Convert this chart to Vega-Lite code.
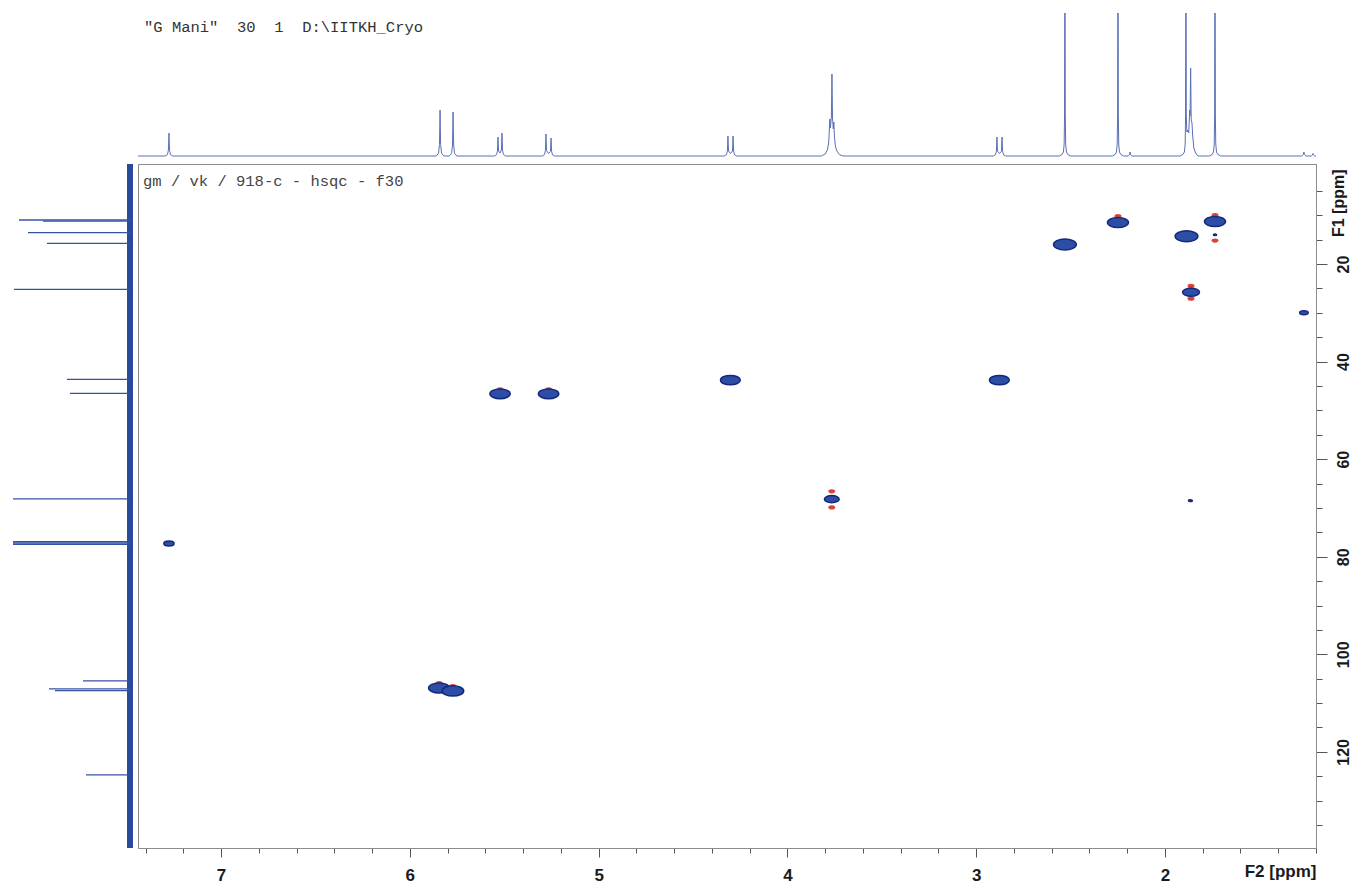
{
  "$schema": "https://vega.github.io/schema/vega-lite/v6.json",
  "background": "white",
  "padding": {"left": 10, "top": 13, "right": 6, "bottom": 6},
  "columns": 2,
  "spacing": {"row": 4, "column": 4},
  "bounds": "flush",
  "config": {
    "view": {"stroke": "#8c8c8c", "strokeWidth": 1},
    "axis": {"grid": false, "domainColor": "#8c8c8c", "tickColor": "#555555", "labelColor": "#1a1a1a", "titleColor": "#1a1a1a", "labelFont": "Liberation Sans", "titleFont": "Liberation Sans", "labelFontWeight": "bold", "titleFontWeight": "bold"}
  },
  "datasets": {
    "proton": [
      {"h":7.44,"i":0},
      {"h":7.296,"i":0},{"h":7.284,"i":1.4},{"h":7.279,"i":5.8},{"h":7.276,"i":23},{"h":7.273,"i":5.8},{"h":7.268,"i":1.4},{"h":7.256,"i":0},
      {"h":5.86,"i":0},{"h":5.848,"i":2.8},{"h":5.843,"i":11.5},{"h":5.84,"i":46},{"h":5.837,"i":11.5},{"h":5.832,"i":2.8},{"h":5.82,"i":0},
      {"h":5.791,"i":0},{"h":5.779,"i":2.6},{"h":5.774,"i":11},{"h":5.771,"i":44},{"h":5.768,"i":11},{"h":5.763,"i":2.6},{"h":5.751,"i":0},
      {"h":5.553,"i":0},{"h":5.541,"i":1.2},{"h":5.536,"i":4.8},{"h":5.533,"i":19},{"h":5.53,"i":5},{"h":5.5225,"i":3},{"h":5.515,"i":6},{"h":5.512,"i":23},{"h":5.509,"i":5.8},{"h":5.504,"i":1.4},{"h":5.492,"i":0},
      {"h":5.299,"i":0},{"h":5.287,"i":1.3},{"h":5.282,"i":5.5},{"h":5.279,"i":22},{"h":5.276,"i":5.5},{"h":5.2655,"i":2.5},{"h":5.255,"i":4.5},{"h":5.252,"i":18},{"h":5.249,"i":4.5},{"h":5.244,"i":1.1},{"h":5.232,"i":0},
      {"h":4.335,"i":0},{"h":4.323,"i":1.2},{"h":4.318,"i":5},{"h":4.315,"i":20},{"h":4.312,"i":5},{"h":4.3015,"i":2.5},{"h":4.291,"i":5},{"h":4.288,"i":20},{"h":4.285,"i":5},{"h":4.28,"i":1.2},{"h":4.268,"i":0},
      {"h":3.82,"i":0},{"h":3.8,"i":2},{"h":3.788,"i":6},{"h":3.781,"i":14},{"h":3.777,"i":30},{"h":3.775,"i":37},{"h":3.772,"i":28},{"h":3.767,"i":40},{"h":3.764,"i":82},{"h":3.761,"i":38},{"h":3.757,"i":27},{"h":3.754,"i":34},{"h":3.751,"i":20},{"h":3.746,"i":10},{"h":3.738,"i":5},{"h":3.725,"i":1.5},{"h":3.705,"i":0},
      {"h":2.91,"i":0},{"h":2.898,"i":1.1},{"h":2.893,"i":4.8},{"h":2.89,"i":19},{"h":2.887,"i":4.8},{"h":2.8765,"i":2.5},{"h":2.866,"i":4.8},{"h":2.863,"i":19},{"h":2.86,"i":4.8},{"h":2.855,"i":1.1},{"h":2.843,"i":0},
      {"h":2.56,"i":0},{"h":2.545,"i":1.5},{"h":2.538,"i":4},{"h":2.534,"i":12},{"h":2.532,"i":40},{"h":2.53,"i":260},{"h":2.528,"i":40},{"h":2.526,"i":12},{"h":2.522,"i":4},{"h":2.515,"i":1.5},{"h":2.5,"i":0},
      {"h":2.279,"i":0},{"h":2.264,"i":1.5},{"h":2.257,"i":4},{"h":2.253,"i":12},{"h":2.251,"i":40},{"h":2.249,"i":260},{"h":2.247,"i":40},{"h":2.245,"i":12},{"h":2.241,"i":4},{"h":2.234,"i":1.5},{"h":2.219,"i":0},
      {"h":2.195,"i":0},{"h":2.188,"i":1.2},{"h":2.185,"i":4},{"h":2.182,"i":1.2},{"h":2.175,"i":0},
      {"h":1.92,"i":0},{"h":1.905,"i":1.5},{"h":1.897,"i":4},{"h":1.893,"i":12},{"h":1.891,"i":40},{"h":1.889,"i":260},{"h":1.887,"i":40},{"h":1.884,"i":24},{"h":1.879,"i":26},{"h":1.874,"i":23},{"h":1.869,"i":46},{"h":1.867,"i":40},{"h":1.864,"i":88},{"h":1.861,"i":36},{"h":1.857,"i":33},{"h":1.853,"i":20},{"h":1.847,"i":8},{"h":1.838,"i":3},{"h":1.825,"i":0},
      {"h":1.765,"i":0},{"h":1.75,"i":1.5},{"h":1.743,"i":4},{"h":1.739,"i":12},{"h":1.737,"i":40},{"h":1.735,"i":260},{"h":1.733,"i":40},{"h":1.731,"i":12},{"h":1.727,"i":4},{"h":1.72,"i":1.5},{"h":1.705,"i":0},
      {"h":1.275,"i":0},{"h":1.267,"i":1.5},{"h":1.264,"i":4},{"h":1.261,"i":1.5},{"h":1.253,"i":0},
      {"h":1.225,"i":0},{"h":1.219,"i":1},{"h":1.216,"i":2.5},{"h":1.213,"i":1},{"h":1.207,"i":0},
      {"h":1.2,"i":0}
    ],
    "carbon": [
      {"c":10.98,"i":111},{"c":11.2,"i":87},{"c":13.58,"i":102},{"c":15.75,"i":83},{"c":25.18,"i":116},
      {"c":43.63,"i":63},{"c":46.5,"i":60},{"c":68.16,"i":117},{"c":76.9,"i":117},{"c":77.18,"i":117},{"c":77.46,"i":117},
      {"c":105.46,"i":47},{"c":107.1,"i":81},{"c":107.45,"i":75},{"c":124.7,"i":44}
    ],
    "hsqc": [
      {"h":7.276,"c":77.3,"vol":0.2},{"h":5.845,"c":106.9,"vol":0.85},{"h":5.772,"c":107.5,"vol":0.9},
      {"h":5.522,"c":46.6,"vol":0.8},{"h":5.265,"c":46.6,"vol":0.8},{"h":4.302,"c":43.8,"vol":0.75},
      {"h":3.765,"c":68.2,"vol":0.42},{"h":2.877,"c":43.8,"vol":0.75},{"h":2.53,"c":16.0,"vol":1.0},
      {"h":2.249,"c":11.5,"vol":0.85},{"h":1.886,"c":14.3,"vol":1.0},{"h":1.735,"c":11.3,"vol":0.85},
      {"h":1.862,"c":25.8,"vol":0.55},{"h":1.264,"c":30.0,"vol":0.14},{"h":1.865,"c":68.5,"vol":0.03},
      {"h":1.735,"c":14.0,"vol":0.02}
    ],
    "neg": [
      {"h":2.249,"c":10.2},{"h":1.735,"c":10.0},{"h":1.862,"c":24.5},{"h":1.862,"c":27.1},
      {"h":3.765,"c":66.6},{"h":3.765,"c":69.9},{"h":5.845,"c":105.9},{"h":5.772,"c":106.5},
      {"h":5.522,"c":45.7},{"h":5.265,"c":45.7},{"h":1.735,"c":15.2}
    ]
  },
  "concat": [
    {
      "width": 124, "height": 147,
      "view": {"stroke": null},
      "data": {"values": []},
      "mark": "point"
    },
    {
      "width": 1178, "height": 147,
      "view": {"stroke": null},
      "title": {"text": "\"G Mani\"\u00a0\u00a030\u00a0\u00a01\u00a0\u00a0D:\\IITKH_Cryo", "anchor": "start", "frame": "group", "orient": "top", "offset": 0, "dx": 6, "dy": 34, "baseline": "alphabetic", "font": "Liberation Mono", "fontSize": 15.5, "fontWeight": "normal", "color": "#333333"},
      "data": {"name": "proton"},
      "mark": {"type": "line", "clip": true, "color": "#5b70b6", "strokeWidth": 1},
      "encoding": {
        "x": {"field": "h", "type": "quantitative", "scale": {"domain": [1.2, 7.44], "reverse": true, "nice": false, "zero": false}, "axis": null},
        "y": {"field": "i", "type": "quantitative", "scale": {"domain": [-4, 143], "nice": false, "zero": false}, "axis": null}
      }
    },
    {
      "width": 124, "height": 684,
      "view": {"stroke": null},
      "layer": [
        {
          "data": {"values": [{"base": 0}]},
          "mark": {"type": "rule", "color": "#2a4a9c", "strokeWidth": 6},
          "encoding": {
            "x": {"field": "base", "type": "quantitative", "scale": {"domain": [-4, 120], "reverse": true, "nice": false, "zero": false}, "axis": null}
          }
        },
        {
          "data": {"name": "carbon"},
          "mark": {"type": "rule", "color": "#3553a3", "strokeWidth": 1.3},
          "encoding": {
            "y": {"field": "c", "type": "quantitative", "scale": {"domain": [-0.5, 139.7], "reverse": true, "nice": false, "zero": false}, "axis": null},
            "x": {"field": "i", "type": "quantitative", "scale": {"domain": [-4, 120], "reverse": true, "nice": false, "zero": false}, "axis": null},
            "x2": {"datum": 0}
          }
        }
      ]
    },
    {
      "width": 1178, "height": 684,
      "title": {"text": "gm / vk / 918-c - hsqc - f30", "anchor": "start", "frame": "group", "orient": "top", "offset": 0, "dx": 5, "dy": 37, "baseline": "alphabetic", "font": "Liberation Mono", "fontSize": 15.5, "fontWeight": "normal", "color": "#444444"},
      "encoding": {
        "x": {
          "field": "h", "type": "quantitative",
          "scale": {"domain": [1.2, 7.44], "reverse": true, "nice": false, "zero": false},
          "axis": {
            "orient": "bottom",
            "values": [1.2,1.4,1.6,1.8,2,2.2,2.4,2.6,2.8,3,3.2,3.4,3.6,3.8,4,4.2,4.4,4.6,4.8,5,5.2,5.4,5.6,5.8,6,6.2,6.4,6.6,6.8,7,7.2,7.4],
            "labelExpr": "abs(datum.value - round(datum.value)) < 0.01 ? format(round(datum.value), 'd') : ''",
            "tickSize": {"condition": {"test": "abs(datum.value - round(datum.value)) < 0.01", "value": 9}, "value": 5},
            "labelFontSize": 17, "labelBaseline": "alphabetic", "labelPadding": 23, "labelOverlap": false, "labelFlush": false,
            "title": "F2 [ppm]", "titleFontSize": 17, "titleX": 1178, "titleY": 28, "titleAlign": "right", "titleBaseline": "alphabetic", "titleAngle": 0
          }
        },
        "y": {
          "field": "c", "type": "quantitative",
          "scale": {"domain": [-0.5, 139.7], "reverse": true, "nice": false, "zero": false},
          "axis": {
            "orient": "right",
            "values": [5,10,15,20,25,30,35,40,45,50,55,60,65,70,75,80,85,90,95,100,105,110,115,120,125,130,135],
            "labelExpr": "datum.value % 20 === 0 ? format(datum.value, 'd') : ''",
            "tickSize": {"condition": {"test": "datum.value % 20 === 0", "value": 11}, "value": 6},
            "labelAngle": 270, "labelAlign": "center", "labelBaseline": "alphabetic", "labelPadding": 21, "labelFontSize": 16, "labelOverlap": false, "labelFlush": false,
            "title": "F1 [ppm]", "titleFontSize": 16, "titleAngle": 270, "titleAlign": "right", "titleBaseline": "alphabetic", "titleX": 27, "titleY": 5
          }
        }
      },
      "layer": [
        {
          "data": {"name": "neg"},
          "mark": {"type": "point", "filled": true, "shape": "M-1,0A1,0.6,0,1,1,1,0A1,0.6,0,1,1,-1,0Z", "size": 50, "color": "#d8443a", "opacity": 1}
        },
        {
          "data": {"name": "hsqc"},
          "mark": {"type": "point", "filled": true, "shape": "M-1,0A1,0.48,0,1,1,1,0A1,0.48,0,1,1,-1,0Z", "fill": "#2d4ea6", "stroke": "#17287a", "strokeWidth": 1.5, "opacity": 1},
          "encoding": {
            "size": {"field": "vol", "type": "quantitative", "scale": {"domain": [0, 1], "range": [0, 520], "zero": true}, "legend": null}
          }
        }
      ]
    }
  ]
}
